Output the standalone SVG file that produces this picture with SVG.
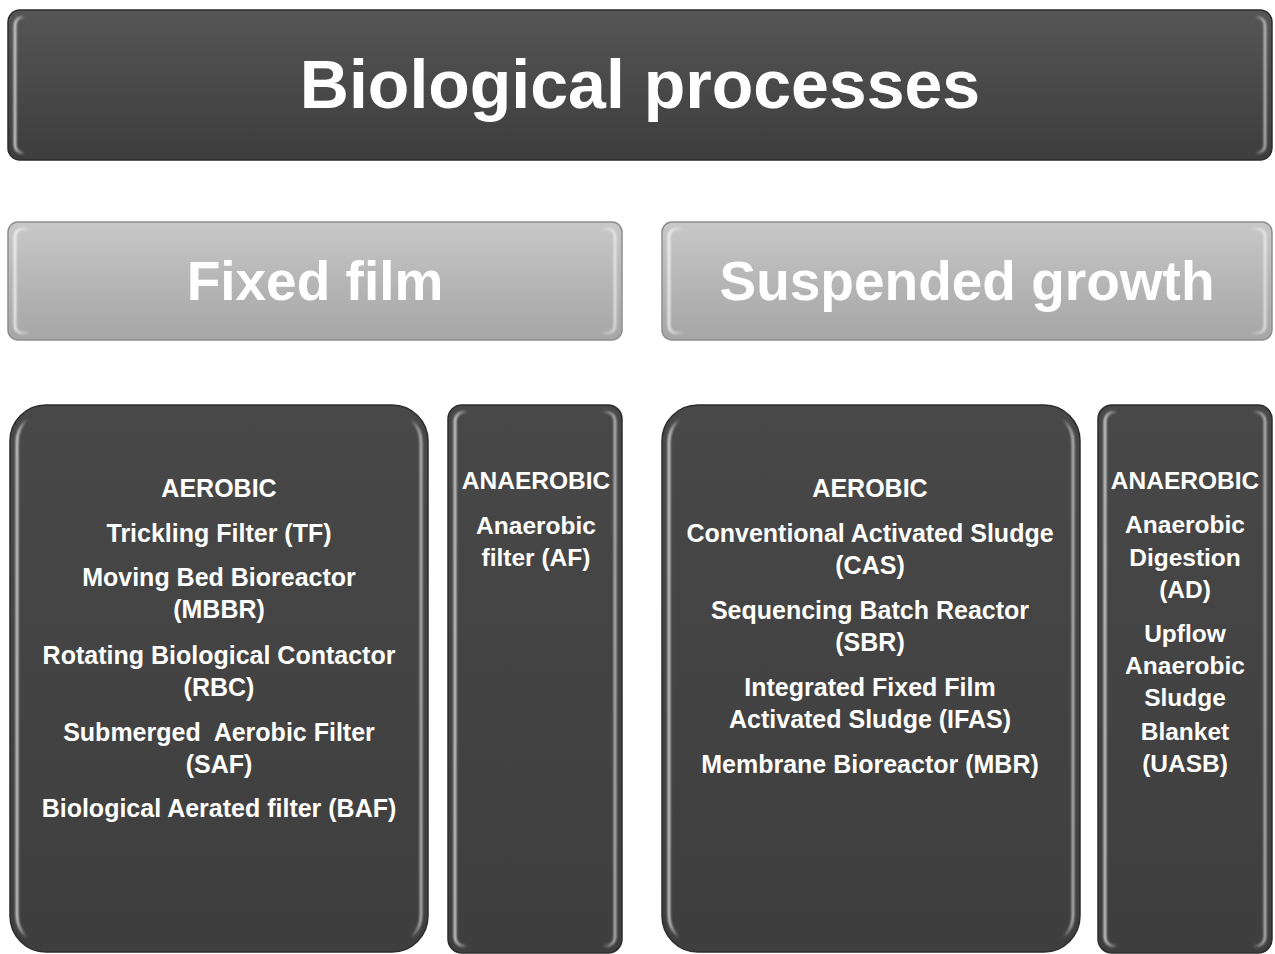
<svg xmlns="http://www.w3.org/2000/svg" width="1275" height="954" viewBox="0 0 1275 954">
  <defs>
    <linearGradient id="darkFill" x1="0" y1="0" x2="0" y2="1">
      <stop offset="0" stop-color="#555555"/>
      <stop offset="0.5" stop-color="#494949"/>
      <stop offset="1" stop-color="#3d3d3d"/>
    </linearGradient>
    <linearGradient id="boxFill" x1="0" y1="0" x2="0" y2="1">
      <stop offset="0" stop-color="#484848"/>
      <stop offset="1" stop-color="#3e3e3e"/>
    </linearGradient>
    <linearGradient id="lightFill" x1="0" y1="0" x2="0" y2="1">
      <stop offset="0" stop-color="#c8c8c8"/>
      <stop offset="0.5" stop-color="#b6b6b6"/>
      <stop offset="1" stop-color="#a6a6a6"/>
    </linearGradient>
    <!-- glossy side highlights used as an inner bevel -->
    <linearGradient id="sheen" x1="0" y1="0" x2="1" y2="0">
      <stop offset="0" stop-color="#ffffff" stop-opacity="0.85"/>
      <stop offset="0.025" stop-color="#ffffff" stop-opacity="0"/>
      <stop offset="0.975" stop-color="#ffffff" stop-opacity="0"/>
      <stop offset="1" stop-color="#ffffff" stop-opacity="0.7"/>
    </linearGradient>
    <linearGradient id="sheenNarrow" x1="0" y1="0" x2="1" y2="0">
      <stop offset="0" stop-color="#ffffff" stop-opacity="0.85"/>
      <stop offset="0.08" stop-color="#ffffff" stop-opacity="0"/>
      <stop offset="0.92" stop-color="#ffffff" stop-opacity="0"/>
      <stop offset="1" stop-color="#ffffff" stop-opacity="0.7"/>
    </linearGradient>
    <linearGradient id="sheenWide" x1="0" y1="0" x2="1" y2="0">
      <stop offset="0" stop-color="#ffffff" stop-opacity="0.85"/>
      <stop offset="0.008" stop-color="#ffffff" stop-opacity="0"/>
      <stop offset="0.992" stop-color="#ffffff" stop-opacity="0"/>
      <stop offset="1" stop-color="#ffffff" stop-opacity="0.7"/>
    </linearGradient>
    <filter id="soft" x="-5%" y="-5%" width="110%" height="110%">
      <feGaussianBlur stdDeviation="0.8"/>
    </filter>
  </defs>
  <style>
    .edge { stroke: #2c2c2c; stroke-width: 1.5; }
    .edgeLight { stroke: #8e8e8e; stroke-width: 1.5; }
    .bevel { fill: none; stroke-width: 2.5; filter: url(#soft); }
    text { font-family: "Liberation Sans", Arial, sans-serif; font-weight: bold; fill: #ffffff; text-anchor: middle; }
    .title { font-size: 68px; }
    .cat { font-size: 55px; }
    .item { font-size: 25px; }
    .narrow { font-size: 24.5px; }
  </style>

  <rect width="1275" height="954" fill="#ffffff"/>

  <!-- top banner -->
  <g id="biological-processes">
    <rect x="8" y="10" width="1264" height="150" rx="12" fill="url(#darkFill)" class="edge"/>
    <rect x="15" y="17" width="1250" height="136" rx="8" stroke="url(#sheenWide)" class="bevel"/>
    <text class="title" x="640" y="108">Biological processes</text>
  </g>

  <!-- category banners -->
  <g id="fixed-film">
    <rect x="8" y="222" width="614" height="118" rx="10" fill="url(#lightFill)" class="edgeLight"/>
    <rect x="15" y="229" width="600" height="104" rx="7" stroke="url(#sheen)" class="bevel"/>
    <text class="cat" x="315" y="300">Fixed film</text>
  </g>

  <g id="suspended-growth">
    <rect x="662" y="222" width="610" height="118" rx="10" fill="url(#lightFill)" class="edgeLight"/>
    <rect x="669" y="229" width="596" height="104" rx="7" stroke="url(#sheen)" class="bevel"/>
    <text class="cat" x="967" y="300">Suspended growth</text>
  </g>

  <!-- fixed film: aerobic -->
  <g id="fixed-aerobic">
    <rect x="10" y="405" width="418" height="547" rx="36" fill="url(#boxFill)" class="edge"/>
    <rect x="17" y="412" width="404" height="533" rx="30" stroke="url(#sheen)" class="bevel"/>
    <text class="item" x="219" y="497">AEROBIC</text>
    <text class="item" x="219" y="542">Trickling Filter (TF)</text>
    <text class="item" x="219" y="586">Moving Bed Bioreactor</text>
    <text class="item" x="219" y="618">(MBBR)</text>
    <text class="item" x="219" y="664">Rotating Biological Contactor</text>
    <text class="item" x="219" y="696">(RBC)</text>
    <text class="item" x="219" y="741" xml:space="preserve">Submerged  Aerobic Filter</text>
    <text class="item" x="219" y="773">(SAF)</text>
    <text class="item" x="219" y="817">Biological Aerated filter (BAF)</text>
  </g>

  <!-- fixed film: anaerobic -->
  <g id="fixed-anaerobic">
    <rect x="448" y="405" width="174" height="548" rx="14" fill="url(#boxFill)" class="edge"/>
    <rect x="455" y="412" width="160" height="534" rx="9" stroke="url(#sheenNarrow)" class="bevel"/>
    <text class="narrow" x="536" y="489">ANAEROBIC</text>
    <text class="narrow" x="536" y="534">Anaerobic</text>
    <text class="narrow" x="536" y="566">filter (AF)</text>
  </g>

  <!-- suspended growth: aerobic -->
  <g id="suspended-aerobic">
    <rect x="662" y="405" width="418" height="547" rx="36" fill="url(#boxFill)" class="edge"/>
    <rect x="669" y="412" width="404" height="533" rx="30" stroke="url(#sheen)" class="bevel"/>
    <text class="item" x="870" y="497">AEROBIC</text>
    <text class="item" x="870" y="542">Conventional Activated Sludge</text>
    <text class="item" x="870" y="574">(CAS)</text>
    <text class="item" x="870" y="619">Sequencing Batch Reactor</text>
    <text class="item" x="870" y="651">(SBR)</text>
    <text class="item" x="870" y="696">Integrated Fixed Film</text>
    <text class="item" x="870" y="728">Activated Sludge (IFAS)</text>
    <text class="item" x="870" y="773">Membrane Bioreactor (MBR)</text>
  </g>

  <!-- suspended growth: anaerobic -->
  <g id="suspended-anaerobic">
    <rect x="1098" y="405" width="174" height="548" rx="14" fill="url(#boxFill)" class="edge"/>
    <rect x="1105" y="412" width="160" height="534" rx="9" stroke="url(#sheenNarrow)" class="bevel"/>
    <text class="narrow" x="1185" y="489">ANAEROBIC</text>
    <text class="narrow" x="1185" y="533">Anaerobic</text>
    <text class="narrow" x="1185" y="566">Digestion</text>
    <text class="narrow" x="1185" y="598">(AD)</text>
    <text class="narrow" x="1185" y="642">Upflow</text>
    <text class="narrow" x="1185" y="674">Anaerobic</text>
    <text class="narrow" x="1185" y="706">Sludge</text>
    <text class="narrow" x="1185" y="740">Blanket</text>
    <text class="narrow" x="1185" y="772">(UASB)</text>
  </g>

  <!-- the layout is a plain hierarchy with no drawn links -->
  <g id="connectors"/>
</svg>
